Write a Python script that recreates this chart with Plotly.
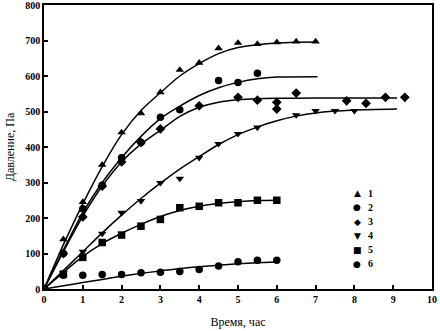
import plotly.graph_objects as go

# ---- measured points ----
names = ["1", "2", "3", "4", "5", "6"]
symbols = ["triangle-up", "circle", "diamond", "triangle-down", "square", "circle"]
legend_glyphs = ["▲", "●", "◆", "▼", "■", "●"]

x1 = [0, 0.5, 1, 1.5, 2, 2.5, 3, 3.5, 4, 4.5, 5, 5.5, 6, 6.5, 7]
y1 = [0, 140, 245, 350, 441, 495, 554, 617, 637, 678, 693, 690, 695, 697, 697]

x2 = [0, 0.5, 1, 1.5, 2, 2.5, 3, 3.5, 4.5, 5, 5.5]
y2 = [0, 100, 226, 292, 370, 413, 484, 505, 587, 582, 608]

x3 = [0, 0.5, 1, 1.5, 2, 2.5, 3, 4, 5, 5.5, 6, 6, 6.5, 7.8, 8.3, 8.8, 9.3]
y3 = [0, 100, 203, 290, 358, 413, 451, 516, 540, 532, 526, 507, 552, 530, 523, 540, 540]

x4 = [0, 0.5, 1, 1.5, 2, 2.5, 3, 3.5, 4, 4.5, 5, 5.5, 6.5, 7, 7.5, 8]
y4 = [0, 45, 105, 156, 215, 248, 299, 311, 370, 409, 437, 455, 490, 502, 502, 502]

x5 = [0, 0.5, 1, 1.5, 2, 2.5, 3, 3.5, 4, 4.5, 5, 5.5, 6]
y5 = [0, 42, 89, 131, 152, 177, 196, 229, 233, 243, 243, 250, 250]

x6 = [0, 0.5, 1, 1.5, 2, 2.5, 3, 3.5, 4, 4.5, 5, 5.5, 6]
y6 = [0, 39, 39, 41, 41, 46, 47, 49, 55, 65, 77, 81, 81]

# ---- approximating curves ----
cx1 = [0, 0.5, 1, 1.5, 2, 2.5, 3, 3.5, 4, 4.5, 5, 5.5, 6, 6.5, 7.05]
cy1 = [0, 125, 240, 345, 435, 503, 553, 600, 635, 663, 680, 688, 693, 695, 696]

cx2 = [0, 0.5, 1, 1.5, 2, 2.5, 3, 3.5, 4, 4.5, 5, 5.5, 6, 7.05]
cy2 = [0, 110, 215, 300, 370, 430, 480, 515, 545, 567, 582, 592, 597, 598]

cx3 = [0, 0.5, 1, 1.5, 2, 2.5, 3, 3.5, 4, 4.5, 5, 5.5, 6, 7, 9.1]
cy3 = [0, 105, 205, 290, 358, 408, 447, 486, 512, 526, 533, 536, 537, 538, 538]

cx4 = [0, 0.5, 1, 1.5, 2, 2.5, 3, 3.5, 4, 4.5, 5, 5.5, 6, 6.5, 7, 8, 9.1]
cy4 = [0, 52, 105, 158, 208, 255, 298, 338, 373, 407, 435, 456, 474, 487, 496, 504, 507]

cx5 = [0, 0.5, 1, 1.5, 2, 2.5, 3, 3.5, 4, 4.5, 5, 5.5, 6]
cy5 = [0, 47, 92, 128, 157, 182, 204, 221, 233, 241, 246, 249, 250]

cx6 = [0, 0.5, 1, 1.5, 2, 2.5, 3, 3.5, 4, 4.5, 5, 5.5, 6]
cy6 = [0, 9, 18, 27, 36, 44, 51, 58, 63, 67, 71, 74, 76]

xticks = [0, 1, 2, 3, 4, 5, 6, 7, 8, 9, 10]
yticks = [0, 100, 200, 300, 400, 500, 600, 700, 800]

pts = [(x1, y1), (x2, y2), (x3, y3), (x4, y4), (x5, y5), (x6, y6)]
crv = [(cx1, cy1), (cx2, cy2), (cx3, cy3), (cx4, cy4), (cx5, cy5), (cx6, cy6)]

FONT = "Liberation Serif"
fig = go.Figure()
for (cx, cy) in crv:
    fig.add_trace(go.Scatter(x=cx, y=cy, mode="lines", showlegend=False,
                             line=dict(color="black", width=1.5, shape="spline", smoothing=0.6),
                             hoverinfo="skip"))
for name, sym, (x, y) in zip(names, symbols, pts):
    fig.add_trace(go.Scatter(x=x, y=y, mode="markers", name=name, showlegend=False,
                             marker=dict(symbol=sym, size=7.5, color="black",
                                         line=dict(width=0))))

# compact legend drawn as text (symbol glyph + series number)
leg_x_sym = 0.807
leg_x_txt = 0.83
leg_y0 = 0.337
leg_dy = 0.0497
for i, (g, n) in enumerate(zip(legend_glyphs, names)):
    yy = leg_y0 - i * leg_dy
    fig.add_annotation(x=leg_x_sym, y=yy, xref="paper", yref="paper", text=g,
                       showarrow=False, xanchor="center", yanchor="middle",
                       font=dict(family="DejaVu Sans", size=9, color="black"))
    fig.add_annotation(x=leg_x_txt, y=yy, xref="paper", yref="paper", text=n,
                       showarrow=False, xanchor="left", yanchor="middle",
                       font=dict(family=FONT, size=10, color="black", weight="bold"))

axis_common = dict(showgrid=False, zeroline=False, showline=True, linecolor="black",
                   linewidth=1.5, mirror=True, ticks="inside", ticklen=4,
                   tickcolor="black", tickwidth=1.5, automargin=False,
                   ticklabeloverflow="allow",
                   tickfont=dict(family=FONT, size=10, color="black", weight="bold"))

fig.update_layout(
    width=440, height=331,
    margin=dict(l=44, r=8, t=5, b=42),
    paper_bgcolor="white", plot_bgcolor="white",
    font=dict(family=FONT, color="black"),
    xaxis=dict(range=[0, 10], tickvals=xticks,
               title=dict(text="Время, час", font=dict(family=FONT, size=12), standoff=14),
               **axis_common),
    yaxis=dict(range=[0, 800], tickvals=yticks,
               title=dict(text="Давление, Па", font=dict(family=FONT, size=12), standoff=8),
               **axis_common),
    showlegend=False,
)

fig.write_html("out.html", config={"displayModeBar": False},
               post_script="document.body.style.margin='0';")
